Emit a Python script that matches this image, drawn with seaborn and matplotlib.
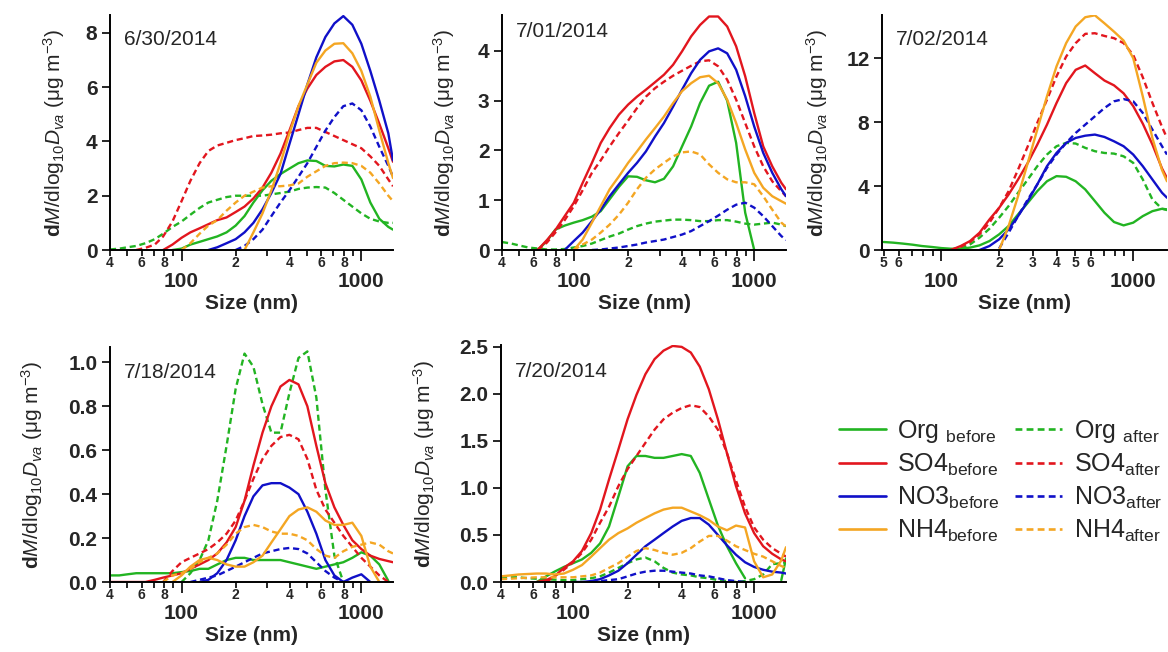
import numpy as np
import pandas as pd
import seaborn as sns
import matplotlib.pyplot as plt
from matplotlib import lines

N = None

# particle size grid (nm), shared by all panels
SIZES = [40, 45, 50, 56, 63, 71, 79, 89, 100, 112, 126, 141, 158, 178, 200, 224, 251,
         282, 316, 355, 398, 447, 501, 562, 631, 708, 794, 891, 1000, 1122, 1259, 1413, 1500]

# ---------------------------------------------------------------------------
# 6/30/2014
ORG_B_0630 = [N, N, N, N, N, N, N, 0.0, 0.05, 0.2, 0.3, 0.4, 0.5, 0.65, 0.9, 1.25, 1.75,
              2.2, 2.55, 2.8, 3.0, 3.2, 3.3, 3.28, 3.1, 3.08, 3.15, 3.1, 2.6, 1.75, 1.15, 0.85, 0.75]
ORG_A_0630 = [0.02, 0.05, 0.1, 0.15, 0.25, 0.4, 0.6, 0.85, 1.05, 1.3, 1.55, 1.75, 1.85, 1.95,
              2.0, 2.0, 2.0, 2.0, 2.05, 2.1, 2.15, 2.25, 2.3, 2.32, 2.3, 2.1, 1.85, 1.6, 1.35,
              1.15, 1.05, 1.0, 1.0]
SO4_B_0630 = [N, N, N, N, N, N, 0.0, 0.2, 0.45, 0.65, 0.8, 0.95, 1.1, 1.2, 1.4, 1.6, 1.9,
              2.3, 2.85, 3.55, 4.4, 5.3, 5.95, 6.45, 6.75, 6.95, 7.0, 6.75, 6.25, 5.5, 4.65, 3.75, 3.25]
SO4_A_0630 = [N, N, N, 0.0, 0.08, 0.2, 0.5, 1.05, 1.8, 2.55, 3.2, 3.65, 3.85, 3.95, 4.05, 4.12,
              4.2, 4.22, 4.25, 4.3, 4.33, 4.42, 4.5, 4.5, 4.35, 4.2, 4.05, 3.9, 3.75, 3.45, 3.1, 2.6, 2.35]
NO3_B_0630 = [N, N, N, N, N, N, N, N, N, N, N, 0.0, 0.1, 0.25, 0.4, 0.65, 1.0, 1.5, 2.1, 2.8,
              3.9, 5.0, 6.1, 7.1, 7.85, 8.35, 8.62, 8.3, 7.6, 6.6, 5.5, 4.3, 3.3]
NO3_A_0630 = [N, N, N, N, N, N, N, N, N, N, N, N, N, N, 0.0, 0.15, 0.4, 0.75, 1.25, 1.75,
              2.2, 2.7, 3.2, 3.8, 4.4, 4.9, 5.3, 5.4, 5.15, 4.55, 3.8, 3.1, 2.7]
NH4_B_0630 = [N, N, N, N, N, N, N, N, N, N, N, N, N, N, N, 0.0, 0.65, 1.35, 2.2, 3.2, 4.3,
              5.3, 6.1, 6.9, 7.35, 7.6, 7.62, 7.25, 6.6, 5.65, 4.4, 3.2, 2.65]
NH4_A_0630 = [N, N, N, N, N, N, N, N, 0.0, 0.25, 0.6, 0.9, 1.1, 1.45, 1.75, 2.0, 2.15, 2.3,
              2.35, 2.35, 2.38, 2.45, 2.7, 2.9, 3.1, 3.2, 3.22, 3.2, 3.1, 2.85, 2.45, 2.0, 1.8]

# 7/01/2014
ORG_B_0701 = [N, N, N, N, 0.0, 0.18, 0.41, 0.49, 0.55, 0.6, 0.67, 0.78, 1.02, 1.27, 1.48,
              1.47, 1.4, 1.36, 1.43, 1.68, 2.08, 2.48, 2.95, 3.3, 3.38, 3.0, 2.15, 0.75, 0.0,
              N, N, N, N]
ORG_A_0701 = [0.16, 0.13, 0.09, 0.05, 0.03, 0.01, 0.01, 0.02, 0.05, 0.08, 0.13, 0.2, 0.27,
              0.33, 0.41, 0.48, 0.53, 0.57, 0.59, 0.61, 0.61, 0.6, 0.58, 0.58, 0.6, 0.6, 0.57,
              0.53, 0.51, 0.53, 0.55, 0.51, 0.48]
SO4_B_0701 = [N, N, N, N, 0.0, 0.2, 0.4, 0.68, 0.95, 1.35, 1.75, 2.15, 2.45, 2.72, 2.92, 3.08,
              3.22, 3.37, 3.52, 3.72, 3.99, 4.29, 4.52, 4.69, 4.69, 4.49, 4.09, 3.49, 2.75, 2.08,
              1.68, 1.35, 1.22]
SO4_A_0701 = [N, N, N, N, 0.0, 0.15, 0.35, 0.6, 0.88, 1.2, 1.55, 1.8, 2.08, 2.35, 2.6, 2.85,
              3.08, 3.25, 3.38, 3.5, 3.6, 3.7, 3.79, 3.81, 3.69, 3.42, 3.02, 2.55, 2.08, 1.68,
              1.38, 1.18, 1.08]
NO3_B_0701 = [N, N, N, N, N, N, N, 0.0, 0.18, 0.35, 0.58, 0.81, 1.08, 1.32, 1.55, 1.75, 1.98,
              2.28, 2.55, 2.88, 3.22, 3.55, 3.82, 3.99, 4.05, 3.95, 3.62, 3.09, 2.48, 1.95, 1.55,
              1.22, 1.08]
NO3_A_0701 = [N, N, N, N, N, N, N, N, N, N, 0.0, 0.01, 0.03, 0.05, 0.08, 0.11, 0.15, 0.18,
              0.21, 0.26, 0.31, 0.38, 0.48, 0.58, 0.69, 0.81, 0.91, 0.95, 0.85, 0.68, 0.48, 0.28, 0.2]
NH4_B_0701 = [N, N, N, N, N, N, N, N, 0.0, 0.21, 0.55, 0.88, 1.22, 1.48, 1.75, 1.98, 2.22,
              2.45, 2.68, 2.95, 3.19, 3.35, 3.47, 3.5, 3.35, 3.02, 2.55, 2.02, 1.55, 1.25, 1.08,
              0.98, 0.93]
NH4_A_0701 = [N, N, N, N, N, N, N, N, 0.0, 0.11, 0.21, 0.35, 0.51, 0.71, 0.95, 1.22, 1.45,
              1.62, 1.75, 1.88, 1.96, 1.98, 1.92, 1.72, 1.55, 1.42, 1.36, 1.36, 1.32, 1.08, 0.81,
              0.55, 0.47]

# 7/02/2014
ORG_B_0702 = [N, N, 0.5, 0.46, 0.4, 0.33, 0.25, 0.19, 0.12, 0.08, 0.08, 0.15, 0.29, 0.56, 0.98,
              1.5, 2.23, 2.95, 3.68, 4.3, 4.62, 4.58, 4.3, 3.79, 3.06, 2.33, 1.75, 1.54, 1.71,
              2.12, 2.43, 2.58, 2.5]
ORG_A_0702 = [N, N, N, N, N, N, N, N, N, 0.0, 0.08, 0.35, 0.77, 1.33, 2.02, 2.75, 3.58, 4.41,
              5.24, 5.97, 6.49, 6.7, 6.66, 6.39, 6.18, 6.07, 6.03, 5.86, 5.45, 4.41, 3.16, 2.58, 2.54]
SO4_B_0702 = [N, N, N, N, N, N, N, N, N, 0.0, 0.25, 0.56, 1.08, 1.91, 2.64, 3.47, 4.41, 5.45,
              6.59, 7.84, 9.19, 10.44, 11.27, 11.54, 11.06, 10.6, 10.3, 9.8, 9.0, 7.9, 6.6, 5.1, 4.5]
SO4_A_0702 = [N, N, N, N, N, N, N, N, N, 0.0, 0.2, 0.5, 0.98, 1.71, 2.64, 3.68, 5.03, 6.49,
              7.95, 9.4, 10.86, 12.1, 12.94, 13.52, 13.56, 13.39, 13.25, 12.94, 12.2, 10.8, 9.2,
              7.7, 7.0]
NO3_B_0702 = [N, N, N, N, N, N, N, N, N, N, N, N, 0.0, 0.25, 0.67, 1.29, 2.12, 3.06, 4.1,
              5.24, 6.07, 6.7, 7.01, 7.15, 7.22, 7.07, 6.8, 6.49, 5.97, 5.24, 4.41, 3.58, 3.27]
NO3_A_0702 = [N, N, N, N, N, N, N, N, N, N, N, N, N, N, 0.1, 1.08, 2.12, 3.16, 4.1, 5.14,
              5.97, 6.7, 7.32, 7.84, 8.36, 8.88, 9.3, 9.44, 9.3, 8.57, 7.53, 6.49, 5.97]
NH4_B_0702 = [N, N, N, N, N, N, N, N, N, N, N, N, N, N, 0.0, 1.5, 3.37, 5.45, 7.53, 9.61,
              11.48, 12.94, 13.98, 14.56, 14.68, 14.18, 13.66, 13.1, 12.0, 9.6, 7.0, 5.0, 4.3]
NH4_A_0702 = [N] * 33

# 7/18/2014
ORG_B_0718 = [0.03, 0.03, 0.035, 0.04, 0.04, 0.04, 0.04, 0.04, 0.045, 0.05, 0.06, 0.06, 0.08,
              0.1, 0.11, 0.11, 0.1, 0.1, 0.1, 0.1, 0.09, 0.08, 0.07, 0.06, 0.07, 0.08, 0.09,
              0.11, 0.135, 0.12, 0.08, 0.005, N]
ORG_A_0718 = [N, N, N, N, N, N, N, N, 0.0, 0.04, 0.1, 0.19, 0.37, 0.62, 0.88, 1.04, 0.98,
              0.81, 0.68, 0.68, 0.86, 1.02, 1.05, 0.84, 0.42, 0.12, 0.0, N, N, N, N, N, N]
SO4_B_0718 = [0.0, 0.0, 0.0, 0.0, 0.0, 0.01, 0.02, 0.03, 0.04, 0.06, 0.08, 0.1, 0.13, 0.18,
              0.25, 0.37, 0.53, 0.68, 0.8, 0.89, 0.92, 0.9, 0.8, 0.62, 0.45, 0.34, 0.26, 0.19,
              0.15, 0.12, 0.105, 0.095, 0.09]
SO4_A_0718 = [N, N, N, N, N, N, 0.0, 0.05, 0.09, 0.11, 0.13, 0.15, 0.18, 0.22, 0.28, 0.37,
              0.47, 0.56, 0.62, 0.66, 0.67, 0.65, 0.56, 0.42, 0.33, 0.27, 0.21, 0.16, 0.11, 0.07,
              0.03, 0.0, N]
NO3_B_0718 = [N, N, N, N, N, N, N, N, N, N, 0.0, 0.01, 0.04, 0.1, 0.19, 0.3, 0.39, 0.44, 0.45,
              0.45, 0.43, 0.4, 0.32, 0.22, 0.1, 0.03, 0.0, 0.02, 0.035, 0.0, N, N, N]
NO3_A_0718 = [N, N, N, N, N, N, N, N, N, 0.0, 0.01, 0.02, 0.03, 0.05, 0.07, 0.09, 0.11, 0.13,
              0.14, 0.15, 0.155, 0.15, 0.13, 0.09, 0.05, 0.02, 0.0, N, N, N, N, N, N]
NH4_B_0718 = [N, N, N, N, N, N, N, 0.0, 0.03, 0.07, 0.1, 0.11, 0.1, 0.08, 0.07, 0.07, 0.09,
              0.12, 0.18, 0.24, 0.3, 0.33, 0.34, 0.32, 0.28, 0.26, 0.26, 0.27, 0.21, 0.07, 0.0, N, N]
NH4_A_0718 = [N, N, N, N, N, N, 0.0, 0.03, 0.04, 0.06, 0.09, 0.11, 0.13, 0.17, 0.22, 0.25,
              0.26, 0.25, 0.23, 0.22, 0.22, 0.21, 0.19, 0.15, 0.12, 0.11, 0.14, 0.16, 0.17, 0.18,
              0.17, 0.14, 0.13]

# 7/20/2014
ORG_B_0720 = [N, N, N, N, 0.0, 0.06, 0.11, 0.16, 0.2, 0.24, 0.31, 0.41, 0.59, 0.91, 1.23,
              1.34, 1.34, 1.32, 1.32, 1.34, 1.36, 1.34, 1.16, 0.88, 0.6, 0.38, 0.2, 0.04,
              N, N, N, 0.02, 0.25]
ORG_A_0720 = [0.04, 0.05, 0.05, 0.04, 0.035, 0.03, 0.025, 0.02, 0.02, 0.03, 0.04, 0.06, 0.1,
              0.15, 0.2, 0.24, 0.26, 0.22, 0.15, 0.1, 0.08, 0.07, 0.05, 0.04, 0.02, 0.01, 0.0,
              0.01, 0.03, 0.08, 0.19, 0.2, 0.21]
SO4_B_0720 = [N, N, N, N, 0.0, 0.02, 0.06, 0.15, 0.22, 0.33, 0.52, 0.77, 1.09, 1.41, 1.73,
              1.99, 2.21, 2.37, 2.46, 2.51, 2.5, 2.44, 2.29, 2.05, 1.73, 1.37, 1.02, 0.73, 0.52,
              0.38, 0.3, 0.24, 0.22]
SO4_A_0720 = [N, N, N, N, N, 0.0, 0.06, 0.13, 0.21, 0.31, 0.45, 0.63, 0.8, 1.02, 1.2, 1.34,
              1.48, 1.62, 1.73, 1.8, 1.85, 1.88, 1.86, 1.76, 1.62, 1.37, 1.08, 0.8, 0.58, 0.45,
              0.36, 0.3, 0.27]
NO3_B_0720 = [N, N, N, N, N, N, N, N, 0.0, 0.0, 0.01, 0.03, 0.07, 0.12, 0.2, 0.29, 0.38, 0.45,
              0.52, 0.59, 0.65, 0.68, 0.68, 0.61, 0.5, 0.39, 0.29, 0.21, 0.16, 0.13, 0.11, 0.1, 0.09]
NO3_A_0720 = [N, N, N, N, N, N, N, N, N, N, 0.0, 0.01, 0.02, 0.03, 0.06, 0.09, 0.11, 0.12,
              0.12, 0.11, 0.1, 0.09, 0.07, 0.06, 0.04, 0.02, 0.01, 0.0, N, N, N, N, N]
NH4_B_0720 = [0.06, 0.07, 0.08, 0.085, 0.09, 0.09, 0.08, 0.09, 0.13, 0.18, 0.27, 0.36, 0.45,
              0.52, 0.57, 0.63, 0.68, 0.73, 0.77, 0.79, 0.79, 0.75, 0.71, 0.66, 0.59, 0.55, 0.6,
              0.58, 0.22, 0.05, 0.08, 0.23, 0.37]
NH4_A_0720 = [0.03, 0.035, 0.04, 0.045, 0.05, 0.05, 0.05, 0.05, 0.05, 0.06, 0.07, 0.1, 0.15,
              0.2, 0.27, 0.33, 0.36, 0.34, 0.31, 0.29, 0.31, 0.36, 0.43, 0.49, 0.49, 0.44, 0.38,
              0.34, 0.3, 0.27, 0.22, 0.17, 0.15]

SPECIES = ["Org", "SO4", "NO3", "NH4"]
PERIODS = ["before", "after"]
COLORS = {"Org": "#22b422", "SO4": "#e2161e", "NO3": "#1010c8", "NH4": "#f4a623"}
DASHES = {"before": "", "after": (2.6, 1.6)}

PANELS = [
    ("6/30/2014", [ORG_B_0630, ORG_A_0630, SO4_B_0630, SO4_A_0630,
                   NO3_B_0630, NO3_A_0630, NH4_B_0630, NH4_A_0630]),
    ("7/01/2014", [ORG_B_0701, ORG_A_0701, SO4_B_0701, SO4_A_0701,
                   NO3_B_0701, NO3_A_0701, NH4_B_0701, NH4_A_0701]),
    ("7/02/2014", [ORG_B_0702, ORG_A_0702, SO4_B_0702, SO4_A_0702,
                   NO3_B_0702, NO3_A_0702, NH4_B_0702, NH4_A_0702]),
    ("7/18/2014", [ORG_B_0718, ORG_A_0718, SO4_B_0718, SO4_A_0718,
                   NO3_B_0718, NO3_A_0718, NH4_B_0718, NH4_A_0718]),
    ("7/20/2014", [ORG_B_0720, ORG_A_0720, SO4_B_0720, SO4_A_0720,
                   NO3_B_0720, NO3_A_0720, NH4_B_0720, NH4_A_0720]),
]

Y_TICKS = [
    ["0", "2", "4", "6", "8"],
    ["0", "1", "2", "3", "4"],
    ["0", "4", "8", "12"],
    ["0.0", "0.2", "0.4", "0.6", "0.8", "1.0"],
    ["0.0", "0.5", "1.0", "1.5", "2.0", "2.5"],
]

# ---------------------------------------------------------------------------
# Layout (pixels of the 1168x652 canvas)
W, H = 1168, 652
AX_PX = [(110, 15, 393, 250), (502, 15, 786, 250), (882, 15, 1167, 250),
         (110, 347, 393, 582), (501, 345, 786, 582)]
Y_TOP = [8.66, 4.72, 14.7, 1.07, 2.52]
X_LEFT = [40, 40, 49, 40, 40]
YLABEL_X = [-0.153, -0.158, -0.182, -0.23, -0.225]
DATE_Y = [0.895, 0.93, 0.895, 0.89, 0.89]

sns.set_style("ticks")
plt.rcParams["font.family"] = ["Liberation Sans", "DejaVu Sans"]
plt.rcParams["mathtext.fontset"] = "custom"
plt.rcParams["mathtext.rm"] = "Liberation Sans"
plt.rcParams["mathtext.it"] = "Liberation Sans:italic"
plt.rcParams["mathtext.bf"] = "Liberation Sans:bold"

YLABEL = r"$\mathbf{d}\mathit{M}$/dlog$_{10}$$\mathit{D}_{\mathit{va}}$ (μg m$^{-3}$)"


def long_form(series_list):
    rows = []
    i = 0
    for species in SPECIES:
        for period in PERIODS:
            vals = np.array(series_list[i], dtype=float)
            i += 1
            seg = 0
            gap = True
            for s, v in zip(SIZES, vals):
                if np.isnan(v):
                    gap = True
                    continue
                if gap:
                    seg += 1
                    gap = False
                rows.append({"size": s, "value": v, "species": species,
                             "period": period, "seg": seg})
    return pd.DataFrame(rows)


fig = plt.figure(figsize=(W / 100, H / 100), dpi=100)

for k, (date, series_list) in enumerate(PANELS):
    l, t, r, b = AX_PX[k]
    ax = fig.add_axes([l / W, 1 - b / H, (r - l) / W, (b - t) / H])
    ax.set_xscale("log")

    df = long_form(series_list)
    sns.lineplot(data=df, x="size", y="value", hue="species", style="period",
                 units="seg", estimator=None, hue_order=SPECIES, style_order=PERIODS,
                 palette=COLORS, dashes=DASHES, linewidth=1.7, legend=False, ax=ax)

    # x axis: decades labelled low, minor digits right under the axis
    ax.set_xticks([100, 1000], ["100", "1000"], fontsize=15, fontweight="bold")
    if X_LEFT[k] == 49:
        minor = [50, 60, 70, 80, 90, 200, 300, 400, 500, 600, 700, 800, 900]
        minor_labs = ["5", "6", "", "", "", "2", "3", "4", "5", "6", "", "", ""]
    else:
        minor = [40, 50, 60, 70, 80, 90, 200, 300, 400, 500, 600, 700, 800, 900]
        minor_labs = ["4", "", "6", "", "8", "", "2", "", "4", "", "6", "", "8", ""]
    ax.set_xticks(minor, minor_labs, minor=True, fontsize=10, fontweight="bold")
    ax.set_xlim(X_LEFT[k], 1500)
    ax.tick_params(axis="x", which="major", direction="out", length=8, width=1.4, pad=8)
    ax.tick_params(axis="x", which="minor", direction="out", length=4, width=1.4, pad=0)

    ylabs = Y_TICKS[k]
    ax.set_yticks([float(v) for v in ylabs], ylabs, fontsize=15, fontweight="bold")
    ax.set_ylim(0, Y_TOP[k])
    ax.tick_params(axis="y", direction="out", length=6, width=1.4, pad=3)

    for side in ["top", "right"]:
        ax.spines[side].set_visible(False)
    for side in ["left", "bottom"]:
        ax.spines[side].set_linewidth(1.4)
        ax.spines[side].set_color("black")

    ax.set_xlabel("Size (nm)", fontsize=15, fontweight="bold", labelpad=2)
    ax.set_ylabel(YLABEL, fontsize=15)
    ax.yaxis.set_label_coords(YLABEL_X[k], 0.5)

    ax.text(0.05, DATE_Y[k], date, transform=ax.transAxes, fontsize=15,
            ha="left", va="center")

# ---------------------------------------------------------------------------
# Legend
handles = []
labels = []
for period in PERIODS:
    for species in SPECIES:
        ls = "-" if period == "before" else (0, DASHES["after"])
        handles.append(lines.Line2D([0], [0], color=COLORS[species], lw=1.9, linestyle=ls))
        if species == "Org":
            labels.append(r"Org $_{\mathrm{%s}}$" % period)
        else:
            labels.append(r"%s$_{\mathrm{%s}}$" % (species, period))

fig.legend(handles, labels, loc="upper left", bbox_to_anchor=(0.718, 0.359), ncol=2,
           frameon=False, fontsize=18, handlelength=1.9, handletextpad=0.45,
           columnspacing=0.6, labelspacing=0.27, borderaxespad=0, borderpad=0)

fig.savefig("out.png", dpi=100)
